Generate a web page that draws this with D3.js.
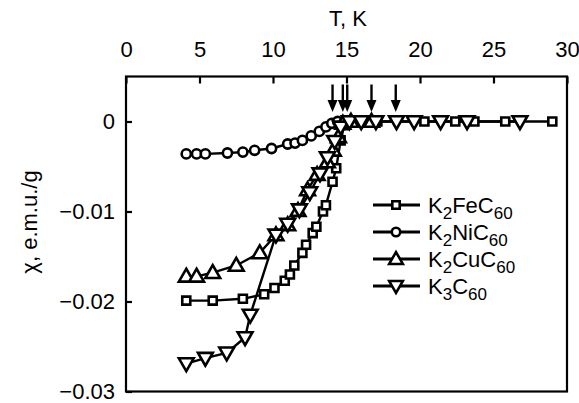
<!DOCTYPE html>
<html><head><meta charset="utf-8">
<script src="https://cdn.jsdelivr.net/npm/d3@7"></script>
<style>body{margin:0;background:#fff}svg{display:block}text{font-family:"Liberation Sans",Arial,sans-serif;fill:#000}</style>
</head><body>
<svg id="c" width="579" height="403"></svg>
<script>
// ---- data ----
const xTicks = [0, 5, 10, 15, 20, 25, 30];
const yTicks = [0, -0.01, -0.02, -0.03];
const yTickLabels = ["0", "\u22120.01", "\u22120.02", "\u22120.03"];
const seriesNames = ["FeC", "NiC", "CuC", "C"];
const seriesSub1 = ["2", "2", "2", "3"];
const feT = [4.1, 5.9, 7.95, 9.4, 10.1, 10.8, 11.15, 11.45, 12.0, 12.25, 12.7, 12.95, 13.4, 13.6, 14.05, 14.3, 14.6, 14.85, 15.5, 17.1, 20.3, 22.4, 23.7, 25.8, 29.0];
const feX = [-0.0199, -0.0199, -0.0197, -0.0192, -0.0185, -0.0177, -0.0170, -0.0160, -0.0146, -0.0137, -0.0124, -0.0117, -0.0100, -0.0093, -0.0067, -0.0052, -0.0021, -0.0004, 0, 0, 0, 0, 0, 0, 0];
const niT = [4.1, 4.8, 5.4, 6.9, 7.95, 8.75, 9.9, 11.0, 11.5, 12.0, 12.6, 13.15, 13.6, 14.0, 14.4, 14.9];
const niX = [-0.0036, -0.0036, -0.0036, -0.0035, -0.0034, -0.0032, -0.0030, -0.0025, -0.0024, -0.0021, -0.0016, -0.0011, -0.0006, -0.0002, 0, 0];
const cuT = [4.1, 4.8, 5.9, 7.5, 9.1, 10.2, 11.0, 11.7, 12.35, 13.0, 13.7, 14.1, 14.45, 14.75, 15.3, 16.7];
const cuX = [-0.0172, -0.0172, -0.0168, -0.0160, -0.0146, -0.0126, -0.0115, -0.0099, -0.0076, -0.0059, -0.0045, -0.0032, -0.0017, -0.0002, 0, 0];
const k3T = [4.1, 5.4, 6.85, 8.1, 8.45, 10.2, 11.0, 11.8, 12.5, 13.2, 13.7, 14.2, 14.6, 15.2, 16.0, 17.0, 18.4, 19.6, 21.4, 23.2, 26.8];
const k3X = [-0.0269, -0.0263, -0.0257, -0.0240, -0.0215, -0.0126, -0.0114, -0.0098, -0.0079, -0.0058, -0.0040, -0.0022, -0.0006, 0, 0, 0, 0, 0, 0, 0, 0];
const arrowT = [14.05, 14.75, 15.05, 16.7, 18.35];

// ---- chart ----
const svg = d3.select("#c");
const L = 126, R = 567, T = 76.5, B = 391.5;
const x = d3.scaleLinear().domain([0, 30]).range([L, R]);
const y = d3.scaleLinear().domain([-0.03, 0.005]).range([B, T]);
const FS = "22px";

const series = [
  {T: feT, X: feX, sym: d3.symbolSquare, size: 64, rot: 0},
  {T: niT, X: niX, sym: d3.symbolCircle, size: 66, rot: 0},
  {T: cuT, X: cuX, sym: d3.symbolTriangle, size: 95, rot: 0},
  {T: k3T, X: k3X, sym: d3.symbolTriangle, size: 95, rot: 180}
];

// frame
svg.append("rect").attr("x", L).attr("y", T).attr("width", R - L).attr("height", B - T)
  .attr("fill", "none").attr("stroke", "#000").attr("stroke-width", 2.2);

// top axis
const xa = svg.append("g").attr("transform", `translate(0,${T})`)
  .call(d3.axisTop(x).tickValues(xTicks).tickSizeInner(-7).tickSizeOuter(0).tickPadding(20));
xa.select(".domain").remove();
xa.selectAll("line").attr("stroke-width", 2.2);
xa.selectAll("text").style("font-size", FS).attr("font-family", "Liberation Sans, Arial, sans-serif");

// left axis
const ya = svg.append("g").attr("transform", `translate(${L},0)`)
  .call(d3.axisLeft(y).tickValues(yTicks).tickFormat((d, i) => yTickLabels[i]).tickSizeInner(-6).tickSizeOuter(0).tickPadding(11));
ya.select(".domain").remove();
ya.selectAll("line").attr("stroke-width", 2.2);
ya.selectAll("text").style("font-size", FS).attr("font-family", "Liberation Sans, Arial, sans-serif");

// axis titles
svg.append("text").attr("x", 348).attr("y", 26).attr("text-anchor", "middle").style("font-size", FS).text("T, K");
svg.append("text").attr("transform", "translate(37,222) rotate(-90)").attr("text-anchor", "middle")
  .style("font-size", FS).text("\u03c7, e.m.u./g");

// lines
const line = d3.line().x(d => x(d[0])).y(d => y(d[1]));
series.forEach(s => {
  const pts = s.T.map((t, i) => [t, s.X[i]]);
  svg.append("path").datum(pts).attr("d", line).attr("fill", "none").attr("stroke", "#000").attr("stroke-width", 2.4);
});
// markers
series.forEach(s => {
  const pts = s.T.map((t, i) => [t, s.X[i]]);
  svg.append("g").selectAll("path").data(pts).join("path")
    .attr("d", d3.symbol().type(s.sym).size(s.size))
    .attr("transform", d => `translate(${x(d[0])},${y(d[1]) + (s.sym === d3.symbolTriangle ? (s.rot ? -1 : 1) : 0)}) rotate(${s.rot})`)
    .attr("fill", "#fff").attr("stroke", "#000").attr("stroke-width", 2.6);
});

// arrows
arrowT.forEach(t => {
  const ax = x(t);
  svg.append("line").attr("x1", ax).attr("x2", ax).attr("y1", T + 8).attr("y2", 103)
    .attr("stroke", "#000").attr("stroke-width", 2.4);
  svg.append("path").attr("d", `M${ax - 5},100 L${ax + 5},100 L${ax},112 Z`).attr("fill", "#000");
});

// legend
const legY0 = 205, legDy = 27;
series.forEach((s, i) => {
  const ly = legY0 + i * legDy;
  svg.append("line").attr("x1", 373).attr("x2", 420).attr("y1", ly).attr("y2", ly).attr("stroke", "#000").attr("stroke-width", 2.8);
  svg.append("path").attr("d", d3.symbol().type(s.sym).size(s.size * 0.85))
    .attr("transform", `translate(396,${ly + (s.sym === d3.symbolTriangle ? (s.rot ? -1 : 1) : 0)}) rotate(${s.rot})`)
    .attr("fill", "#fff").attr("stroke", "#000").attr("stroke-width", 2.6);
  const tx = svg.append("text").attr("x", 428).attr("y", ly + 8).style("font-size", FS);
  tx.append("tspan").text("K");
  tx.append("tspan").attr("dy", 6).style("font-size", "17px").text(seriesSub1[i]);
  tx.append("tspan").attr("dy", -6).text(seriesNames[i]);
  tx.append("tspan").attr("dy", 6).style("font-size", "17px").text("60");
});
</script>
</body></html>
